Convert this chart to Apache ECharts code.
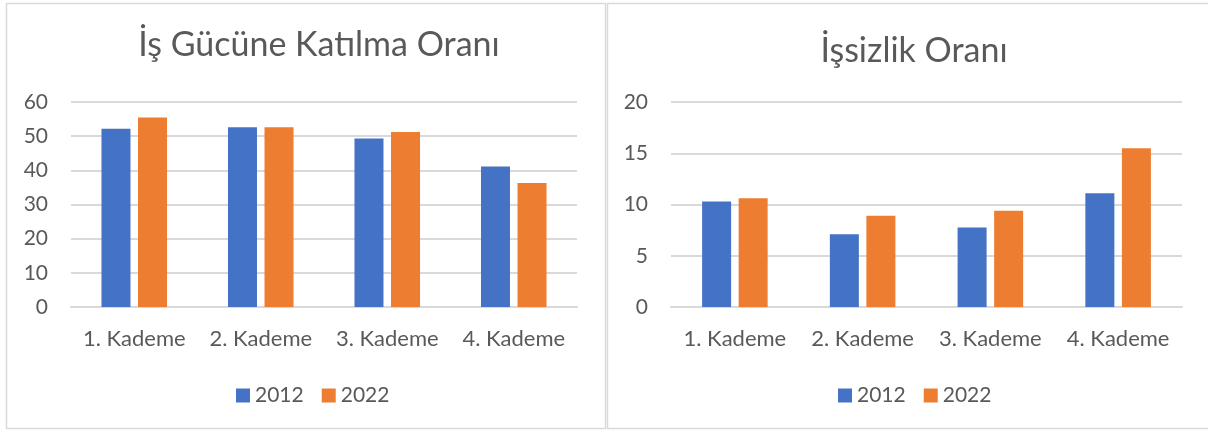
<!DOCTYPE html>
<html>
<head>
<meta charset="utf-8">
<script src="https://cdn.jsdelivr.net/npm/echarts@6/dist/echarts.min.js"></script>
<style>
  html, body { margin: 0; padding: 0; background: #fff; }
  #main { width: 1208px; height: 430px; }
</style>
</head>
<body>
<div id="main"></div>
<script>
// kategoriler ve seriler
const categories = ['1. Kademe', '2. Kademe', '3. Kademe', '4. Kademe']
const years = ['2012', '2022']
const katilma2012 = [52.2, 52.6, 49.3, 41.1]
const katilma2022 = [55.5, 52.6, 51.2, 36.3]
const issizlik2012 = [10.3, 7.1, 7.75, 11.1]
const issizlik2022 = [10.6, 8.9, 9.4, 15.5]

const FONT = 'Lato'
const TXT = '#595959'
const GRID = '#d9d9d9'
const BLUE = '#4472C4'
const ORANGE = '#ED7D31'

const chart = echarts.init(document.getElementById('main'))

function xAxis (idx) {
  return {
    type: 'category',
    gridIndex: idx,
    data: categories,
    axisLine: { lineStyle: { color: GRID, width: 2 } },
    axisTick: { show: false },
    axisLabel: { interval: 0, hideOverlap: false, color: TXT, fontFamily: FONT, fontSize: 22, margin: 21 }
  }
}

function yAxis (idx, max, interval) {
  return {
    type: 'value',
    gridIndex: idx,
    min: 0,
    max: max,
    interval: interval,
    axisLine: { show: false },
    axisTick: { show: false },
    axisLabel: { color: TXT, fontFamily: FONT, fontSize: 21, margin: 23 },
    splitLine: { lineStyle: { color: GRID, width: 2 } }
  }
}

function bar (name, data, color, idx) {
  return {
    name: name,
    type: 'bar',
    xAxisIndex: idx,
    yAxisIndex: idx,
    data: data,
    barWidth: 29,
    barGap: '26%',
    itemStyle: { color: color },
    emphasis: { disabled: true }
  }
}

function legend (left) {
  return {
    data: years,
    left: left,
    top: 380,
    itemWidth: 14,
    itemHeight: 14,
    itemGap: 18,
    icon: 'rect',
    textStyle: { color: TXT, fontFamily: FONT, fontSize: 21 }
  }
}

const option = {
  animation: false,
  title: [
    {
      text: 'İş Gücüne Katılma Oranı',
      left: 314,
      top: 23,
      textAlign: 'center',
      textStyle: { color: TXT, fontFamily: FONT, fontSize: 34, fontWeight: 'normal' }
    },
    {
      text: 'İşsizlik Oranı',
      left: 909,
      top: 29,
      textAlign: 'center',
      textStyle: { color: TXT, fontFamily: FONT, fontSize: 34, fontWeight: 'normal' }
    }
  ],
  legend: [legend(231), legend(833)],
  grid: [
    { left: 71, top: 102, width: 506, height: 205 },
    { left: 671, top: 102, width: 511, height: 205 }
  ],
  xAxis: [xAxis(0), xAxis(1)],
  yAxis: [yAxis(0, 60, 10), yAxis(1, 20, 5)],
  series: [
    bar(years[0], katilma2012, BLUE, 0),
    bar(years[1], katilma2022, ORANGE, 0),
    bar(years[0], issizlik2012, BLUE, 1),
    bar(years[1], issizlik2022, ORANGE, 1)
  ],
  // panel çerçeveleri
  graphic: [
    {
      type: 'rect',
      shape: { x: 6.5, y: 3.5, width: 599, height: 425 },
      style: { fill: 'none', stroke: GRID, lineWidth: 1.5 },
      silent: true
    },
    {
      type: 'rect',
      shape: { x: 607.5, y: 3.5, width: 604, height: 425 },
      style: { fill: 'none', stroke: GRID, lineWidth: 1.5 },
      silent: true
    }
  ]
}

chart.setOption(option)
</script>
</body>
</html>
